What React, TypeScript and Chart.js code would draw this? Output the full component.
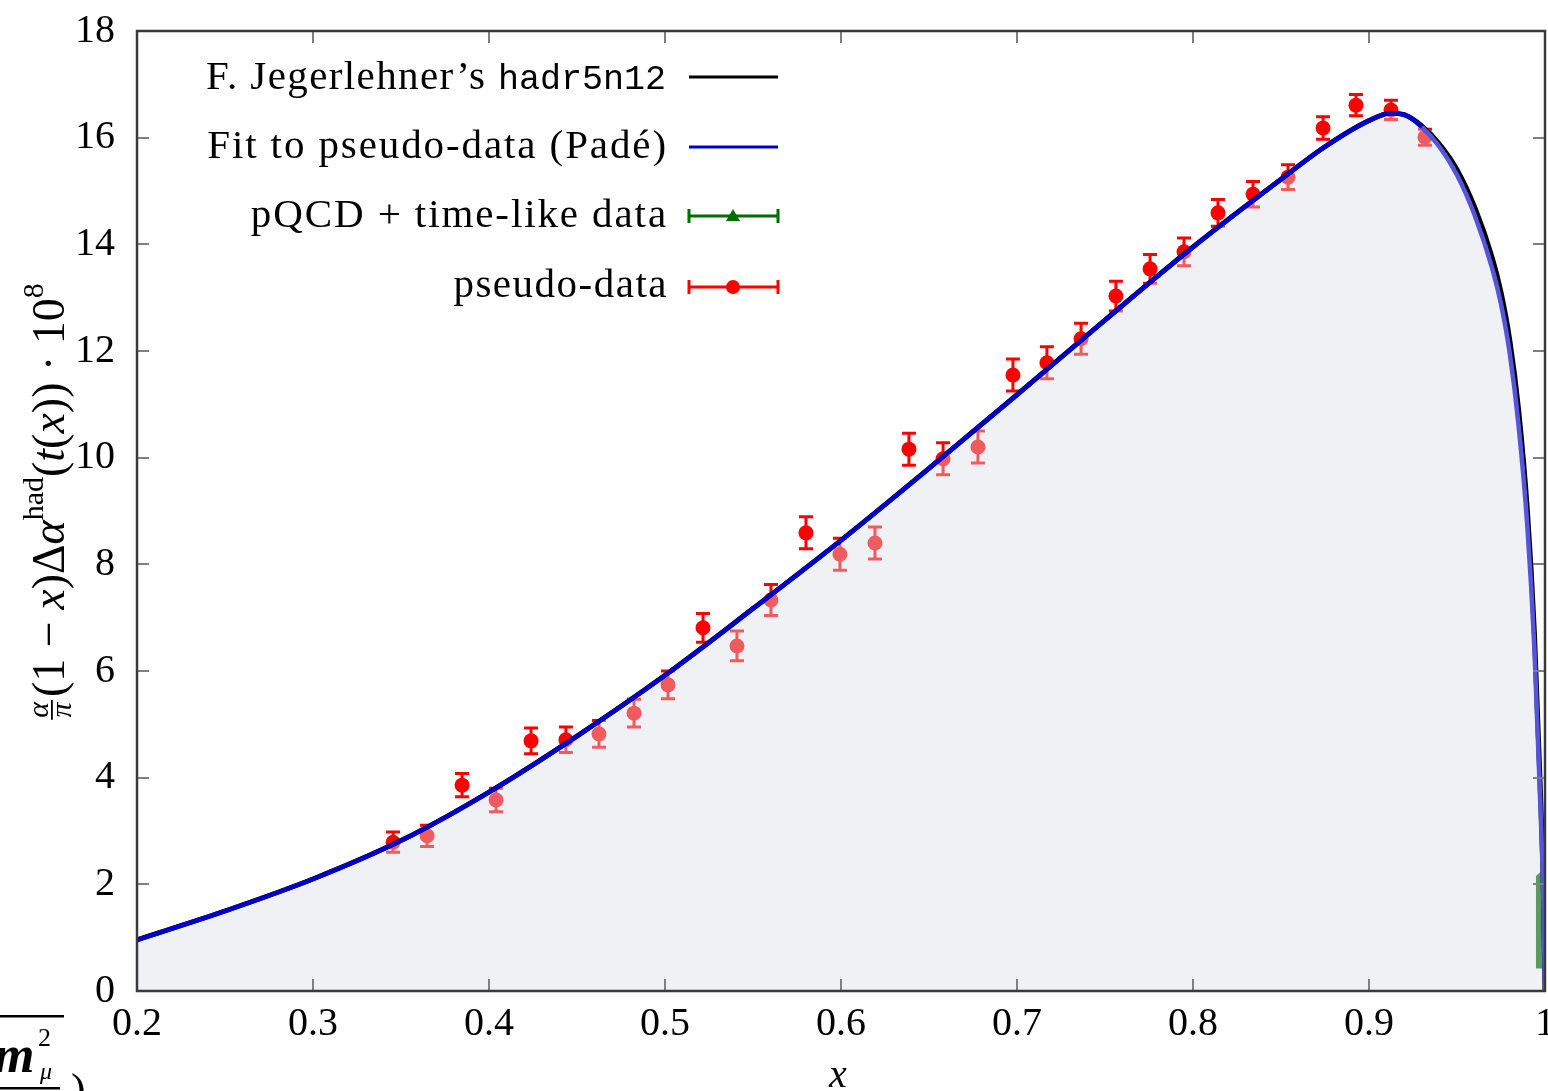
import React, { useEffect, useRef } from "react";
import { Chart, registerables } from "chart.js";
Chart.register(...registerables);

// ---- data ----
const curveX = [0.2, 0.25, 0.3, 0.35, 0.4, 0.45, 0.5, 0.55, 0.6, 0.65, 0.7, 0.75, 0.8, 0.85, 0.875, 0.9, 0.912, 0.92, 0.93, 0.94, 0.95, 0.96, 0.97, 0.975, 0.98, 0.985, 0.99, 0.994, 0.997, 0.999, 1.0];
const jegerlehnerY = [0.96, 1.5, 2.1, 2.82, 3.73, 4.78, 5.92, 7.17, 8.45, 9.8, 11.18, 12.58, 13.95, 15.22, 15.83, 16.32, 16.46, 16.43, 16.22, 15.88, 15.4, 14.7, 13.75, 13.1, 12.2, 10.9, 9.0, 6.7, 4.1, 2.0, 0];
const fitY = [0.96, 1.5, 2.1, 2.82, 3.73, 4.78, 5.92, 7.17, 8.45, 9.8, 11.18, 12.58, 13.95, 15.22, 15.83, 16.32, 16.46, 16.43, 16.2, 15.83, 15.3, 14.55, 13.55, 12.88, 11.95, 10.6, 8.7, 6.4, 3.8, 1.8, 0];

const pseudoX = [0.3455, 0.3648, 0.3847, 0.404, 0.4239, 0.4437, 0.4625, 0.4824, 0.5017, 0.5216, 0.5409, 0.5602, 0.5801, 0.5994, 0.6193, 0.6386, 0.658, 0.6778, 0.6977, 0.717, 0.7364, 0.7562, 0.7756, 0.7949, 0.8142, 0.8341, 0.854, 0.8739, 0.8926, 0.9125, 0.9318];
const pseudoY = [2.79, 2.91, 3.86, 3.58, 4.69, 4.71, 4.82, 5.21, 5.74, 6.81, 6.47, 7.33, 8.59, 8.19, 8.4, 10.16, 9.98, 10.2, 11.55, 11.78, 12.23, 13.03, 13.54, 13.86, 14.59, 14.94, 15.26, 16.18, 16.61, 16.52, 16.01];
const pseudoErr = [0.19, 0.2, 0.22, 0.22, 0.24, 0.24, 0.25, 0.26, 0.26, 0.27, 0.28, 0.29, 0.3, 0.3, 0.3, 0.3, 0.3, 0.3, 0.3, 0.3, 0.29, 0.28, 0.27, 0.26, 0.25, 0.24, 0.23, 0.21, 0.2, 0.18, 0.15];

const timelikeX = [0.9948, 0.9956, 0.9964, 0.9972, 0.998, 0.9988, 0.9996, 1.0015];
const timelikeHi = [2.15, 2.18, 2.2, 2.22, 2.24, 2.27, 2.3, 2.3];
const timelikeLo = [0.42, 0.42, 0.42, 0.42, 0.42, 0.41, 0.41, 0.41];

const legendLabels = ["F. Jegerlehner\u2019s ", "Fit to pseudo-data (Pad\u00e9)", "pQCD + time-like data", "pseudo-data"];
const legendCode = "hadr5n12";
const xTickValues = [0.3, 0.4, 0.5, 0.6, 0.7, 0.8, 0.9];
const yTickValues = [2, 4, 6, 8, 10, 12, 14, 16];

const SERIF = '"Liberation Serif"';

const pts = (xs: number[], ys: number[]) => xs.map((x, i) => ({ x, y: ys[i] }));

const errorBarPlugin = {
  id: "errorBars",
  beforeDatasetsDraw(chart: any) {
    const { ctx, scales } = chart;
    const xs = scales.x, ys = scales.y;
    ctx.save();
    ctx.strokeStyle = "rgb(255,0,0)";
    ctx.lineWidth = 3;
    pseudoX.forEach((x, i) => {
      const px = xs.getPixelForValue(x);
      const y1 = ys.getPixelForValue(pseudoY[i] - pseudoErr[i]);
      const y2 = ys.getPixelForValue(pseudoY[i] + pseudoErr[i]);
      ctx.beginPath();
      ctx.moveTo(px, y1); ctx.lineTo(px, y2);
      ctx.moveTo(px - 7, y1); ctx.lineTo(px + 7, y1);
      ctx.moveTo(px - 7, y2); ctx.lineTo(px + 7, y2);
      ctx.stroke();
    });
    ctx.restore();
  },
};

const framePlugin = {
  id: "frame",
  afterDatasetsDraw(chart: any) {
    const { ctx, chartArea: a, scales } = chart;
    ctx.save();
    ctx.strokeStyle = "#808080";
    ctx.lineWidth = 2;
    ctx.beginPath();
    xTickValues.forEach((v) => {
      const px = Math.round(scales.x.getPixelForValue(v));
      ctx.moveTo(px, a.bottom); ctx.lineTo(px, a.bottom - 12);
      ctx.moveTo(px, a.top); ctx.lineTo(px, a.top + 12);
    });
    yTickValues.forEach((v) => {
      const py = Math.round(scales.y.getPixelForValue(v));
      ctx.moveTo(a.left, py); ctx.lineTo(a.left + 12, py);
      ctx.moveTo(a.right, py); ctx.lineTo(a.right - 12, py);
    });
    ctx.stroke();
    ctx.strokeStyle = "#3a3a3a";
    ctx.lineWidth = 2.5;
    ctx.strokeRect(a.left, a.top, a.right - a.left, a.bottom - a.top);
    ctx.restore();
  },
};

const annotationPlugin = {
  id: "annotations",
  afterDraw(chart: any) {
    const { ctx } = chart;
    ctx.save();
    ctx.fillStyle = "#000";
    // ---- legend ----
    const textRight = 666;
    const baselines = [89, 158, 227, 297];
    const lineY = [77, 147, 216, 287];
    ctx.textAlign = "right";
    ctx.textBaseline = "alphabetic";
    ctx.font = '35px "Liberation Mono"';
    const codeW = ctx.measureText(legendCode).width;
    ctx.fillText(legendCode, textRight, baselines[0]);
    ctx.font = `41px ${SERIF}`;
    (ctx as any).letterSpacing = "1.4px";
    ctx.fillText(legendLabels[0], textRight - codeW, baselines[0]);
    (ctx as any).letterSpacing = "1.9px";
    ctx.fillText(legendLabels[1], textRight + 2, baselines[1]);
    ctx.fillText(legendLabels[2], textRight + 2, baselines[2]);
    (ctx as any).letterSpacing = "1.5px";
    ctx.fillText(legendLabels[3], textRight + 2, baselines[3]);
    (ctx as any).letterSpacing = "0px";
    const lx0 = 689, lx1 = 778, lxm = 733;
    const drawSample = (y: number, color: string, lw: number, caps: boolean) => {
      ctx.strokeStyle = color;
      ctx.lineWidth = lw;
      ctx.beginPath();
      ctx.moveTo(lx0, y); ctx.lineTo(lx1, y);
      if (caps) {
        ctx.moveTo(lx0, y - 7); ctx.lineTo(lx0, y + 7);
        ctx.moveTo(lx1, y - 7); ctx.lineTo(lx1, y + 7);
      }
      ctx.stroke();
    };
    drawSample(lineY[0], "#000", 3, false);
    drawSample(lineY[1], "rgb(0,0,205)", 3, false);
    drawSample(lineY[2], "rgb(0,110,0)", 3, true);
    drawSample(lineY[3], "rgb(255,0,0)", 3, true);
    ctx.fillStyle = "rgb(0,110,0)";
    ctx.beginPath();
    ctx.moveTo(lxm - 7, lineY[2] + 5); ctx.lineTo(lxm + 7, lineY[2] + 5); ctx.lineTo(lxm, lineY[2] - 7);
    ctx.closePath(); ctx.fill();
    ctx.fillStyle = "rgb(255,0,0)";
    ctx.beginPath(); ctx.arc(lxm, lineY[3], 7, 0, Math.PI * 2); ctx.fill();

    // ---- x title ----
    ctx.fillStyle = "#000";
    ctx.textAlign = "center";
    ctx.font = `italic 40px ${SERIF}`;
    ctx.fillText("x", 838, 1087);

    // ---- y title ----
    const main = `46px ${SERIF}`;
    const ital = `italic 46px ${SERIF}`;
    const small = `30px ${SERIF}`;
    const fracF = `italic 30px ${SERIF}`;
    const pieces: { t: string; f: string; dy?: number }[] = [
      { t: "(1 \u2212 ", f: main },
      { t: "x", f: ital },
      { t: ")\u0394", f: main },
      { t: "\u03b1", f: ital },
      { t: "had", f: small, dy: -21 },
      { t: "(", f: main },
      { t: "t", f: ital },
      { t: "(", f: main },
      { t: "x", f: ital },
      { t: ")) \u00b7 10", f: main },
      { t: "8", f: small, dy: -21 },
    ];
    ctx.textAlign = "left";
    ctx.font = fracF;
    const fracW = Math.max(ctx.measureText("\u03b1").width, ctx.measureText("\u03c0").width) + 6;
    let total = fracW + 2;
    pieces.forEach((p) => { ctx.font = p.f; total += ctx.measureText(p.t).width; });
    ctx.translate(64, 502 + total / 2);
    ctx.rotate(-Math.PI / 2);
    let cx = 0;
    ctx.font = fracF;
    const axisY = -12;
    ctx.textAlign = "center";
    ctx.fillText("\u03b1", fracW / 2, axisY - 4);
    ctx.fillText("\u03c0", fracW / 2, axisY + 19);
    ctx.fillRect(1, axisY - 1, fracW - 2, 1.8);
    ctx.textAlign = "left";
    cx = fracW + 2;
    pieces.forEach((p) => {
      ctx.font = p.f;
      ctx.fillText(p.t, cx, p.dy || 0);
      cx += ctx.measureText(p.t).width;
    });
    ctx.restore();

    // ---- clipped fragment at bottom left ----
    ctx.save();
    ctx.fillStyle = "#000";
    ctx.fillRect(0, 1015, 64, 2.5);
    ctx.font = `bold italic 52px ${SERIF}`;
    ctx.fillText("m", -6, 1072);
    ctx.font = `26px ${SERIF}`;
    ctx.fillText("2", 38, 1046);
    ctx.font = `italic 24px ${SERIF}`;
    ctx.fillText("\u03bc", 40, 1079);
    ctx.fillRect(0, 1087, 60, 2.5);
    ctx.font = `44px ${SERIF}`;
    ctx.fillText(")", 71, 1104);
    ctx.restore();
  },
};

export default function App() {
  const ref = useRef<HTMLCanvasElement | null>(null);
  useEffect(() => {
    if (!ref.current) return;
    const tickFont = { family: SERIF, size: 40 };
    const chart = new Chart(ref.current, {
      type: "scatter",
      data: {
        datasets: [
          {
            label: "Fit to pseudo-data (Padé)",
            data: pts(curveX, fitY),
            showLine: true,
            borderColor: "rgb(0,0,205)",
            borderWidth: 4.5,
            pointRadius: 0,
            cubicInterpolationMode: "monotone",
            fill: false,
            order: 1,
            segment: {
              borderColor: (c: any) => (c.p0.parsed.x >= 0.93 ? "rgb(85,85,220)" : undefined),
            },
          } as any,
          {
            label: "F. Jegerlehner's hadr5n12",
            data: pts(curveX, jegerlehnerY),
            showLine: true,
            borderColor: "#000",
            borderWidth: 5,
            pointRadius: 0,
            cubicInterpolationMode: "monotone",
            fill: "origin",
            backgroundColor: "rgba(215,220,228,0.41)",
            order: 2,
          } as any,
          {
            label: "pseudo-data",
            data: pts(pseudoX, pseudoY),
            pointRadius: 7.5,
            pointBackgroundColor: "rgb(255,0,0)",
            pointBorderWidth: 0,
            order: 4,
          } as any,
          {
            label: "pQCD + time-like data",
            data: pts(timelikeX, timelikeHi),
            showLine: true,
            borderWidth: 0,
            pointRadius: 0,
            fill: "+1",
            backgroundColor: "rgb(0,110,0)",
            clip: false,
            order: 5,
          } as any,
          {
            label: "pQCD lower",
            data: pts(timelikeX, timelikeLo),
            showLine: true,
            borderWidth: 0,
            pointRadius: 0,
            fill: false,
            clip: false,
            order: 6,
          } as any,
        ],
      },
      options: {
        animation: false,
        responsive: false,
        maintainAspectRatio: false,
        devicePixelRatio: 1,
        layout: { autoPadding: false, padding: { top: 31, right: 3, left: 0, bottom: 0 } },
        plugins: { legend: { display: false }, tooltip: { enabled: false } },
        scales: {
          x: {
            type: "linear",
            min: 0.2,
            max: 1,
            afterFit: (s: any) => { s.height = 100; s.paddingLeft = 0; s.paddingRight = 0; },
            grid: { display: false, drawTicks: false },
            border: { display: false },
            ticks: {
              stepSize: 0.1,
              padding: 9,
              color: "#000",
              font: tickFont,
              maxRotation: 0,
              autoSkip: false,
              callback: (v: any) => String(Number(Number(v).toFixed(1))),
            },
          },
          y: {
            min: 0,
            max: 18,
            afterFit: (s: any) => { s.width = 137; s.paddingTop = 0; s.paddingBottom = 0; },
            grid: { display: false, drawTicks: false },
            border: { display: false },
            ticks: { stepSize: 2, padding: 22, color: "#000", font: tickFont },
          },
        },
      } as any,
      plugins: [errorBarPlugin, framePlugin, annotationPlugin],
    });
    return () => chart.destroy();
  }, []);
  return (
    <div style={{ position: "absolute", left: 0, top: 0, width: 1548, height: 1091, background: "#fff" }}>
      <canvas ref={ref} width={1548} height={1091} style={{ display: "block" }} />
    </div>
  );
}
